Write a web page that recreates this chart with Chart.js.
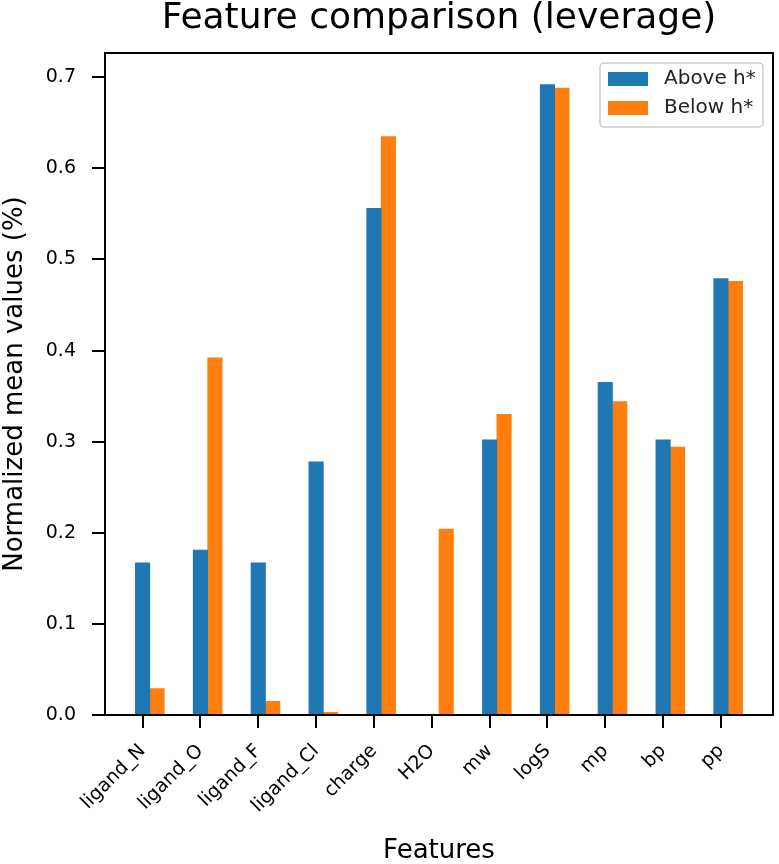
<!DOCTYPE html>
<html>
<head>
<meta charset="utf-8">
<script src="https://cdn.jsdelivr.net/npm/chart.js@4.4.1/dist/chart.umd.min.js"></script>
<style>
  body { margin: 0; background: #fff; }
  #wrap { width: 779px; height: 864px; position: relative; }
</style>
</head>
<body>
<div id="wrap"><canvas id="myChart"></canvas></div>
<script>
const features = ['ligand_N', 'ligand_O', 'ligand_F', 'ligand_Cl', 'charge', 'H2O', 'mw', 'logS', 'mp', 'bp', 'pp'];
const aboveH = [0.167, 0.181, 0.167, 0.278, 0.556, 0.0, 0.302, 0.692, 0.365, 0.302, 0.479];
const belowH = [0.029, 0.392, 0.015, 0.003, 0.635, 0.204, 0.330, 0.688, 0.344, 0.294, 0.476];
const seriesNames = ['Above h*', 'Below h*'];
const yTicks = [0.0, 0.1, 0.2, 0.3, 0.4, 0.5, 0.6, 0.7];

const barWidth = 0.25; // orange bar sits one bar width right of the tick
const blue = '#1f77b4';
const orange = '#ff7f0e';
const fontFamily = '"DejaVu Sans", sans-serif';

const toPoints = (vals, shift) => vals.map((v, i) => ({ x: i + shift, y: v }));

// top/right spines + legend box like matplotlib
const framePlugin = {
  id: 'frame',
  afterDatasetsDraw(chart) {
    const { ctx, chartArea: ca } = chart;
    ctx.save();
    ctx.strokeStyle = '#000';
    ctx.lineWidth = 2;
    ctx.strokeRect(ca.left, ca.top, ca.right - ca.left, ca.bottom - ca.top);

    // legend
    const w = 163, h = 64;
    const x = ca.right - 10 - w, y = ca.top + 10;
    ctx.beginPath();
    ctx.roundRect(x, y, w, h, 4);
    ctx.fillStyle = 'rgba(255,255,255,0.8)';
    ctx.fill();
    ctx.strokeStyle = '#cccccc';
    ctx.lineWidth = 1.5;
    ctx.stroke();
    ctx.font = '20px ' + fontFamily;
    ctx.textBaseline = 'middle';
    ctx.textAlign = 'left';
    chart.data.datasets.forEach((ds, i) => {
      const ry = y + 16 + i * 29;
      ctx.fillStyle = ds.backgroundColor;
      ctx.fillRect(x + 8, ry - 7, 40, 14);
      ctx.fillStyle = '#222';
      ctx.fillText(ds.label, x + 64, ry);
    });
    ctx.restore();
  }
};

const ctx = document.getElementById('myChart').getContext('2d');

const chartConfig = {
  type: 'bar',
  data: {
    datasets: [
      { label: seriesNames[0], data: toPoints(aboveH, 0), backgroundColor: blue },
      { label: seriesNames[1], data: toPoints(belowH, barWidth), backgroundColor: orange }
    ]
  },
  options: {
    responsive: true,
    maintainAspectRatio: false,
    animation: false,
    grouped: false,
    categoryPercentage: 1.0,
    barPercentage: 1.0,
    layout: { padding: { left: 0, right: 6, top: 0, bottom: 0 } },
    plugins: {
      legend: { display: false },
      tooltip: { enabled: false },
      title: {
        display: true,
        fullSize: false,
        text: 'Feature comparison (leverage)',
        color: '#000',
        font: { family: fontFamily, size: 36, weight: 'normal', lineHeight: 1 },
        padding: { top: 1, bottom: 16 }
      }
    },
    scales: {
      x: {
        type: 'linear',
        offset: false,
        min: -0.65,
        max: 10.9,
        afterBuildTicks: (scale) => { scale.ticks = features.map((_, i) => ({ value: i })); },
        afterFit: (scale) => { scale.height = 149; },
        ticks: {
          autoSkip: false,
          minRotation: 45,
          maxRotation: 45,
          padding: 12,
          color: '#000',
          font: { family: fontFamily, size: 19 },
          callback: (value) => features[value]
        },
        grid: { offset: false, drawOnChartArea: false, drawTicks: true, tickLength: 13, color: '#000', lineWidth: 2 },
        border: { display: true, color: '#000', width: 2 },
        title: {
          display: true,
          text: 'Features',
          color: '#000',
          font: { family: fontFamily, size: 26, lineHeight: 1 },
          padding: { top: 0, bottom: 0 }
        }
      },
      y: {
        min: 0,
        max: 0.7266,
        afterBuildTicks: (scale) => { scale.ticks = yTicks.map(v => ({ value: v })); },
        afterFit: (scale) => { scale.width = 105; },
        ticks: {
          padding: 16,
          color: '#000',
          font: { family: fontFamily, size: 19 },
          callback: (value) => value.toFixed(1)
        },
        grid: { drawOnChartArea: false, drawTicks: true, tickLength: 13, color: '#000', lineWidth: 2 },
        border: { display: true, color: '#000', width: 2 },
        title: {
          display: true,
          text: 'Normalized mean values (%)',
          color: '#000',
          font: { family: fontFamily, size: 26 },
          padding: { top: 0, bottom: 4 }
        }
      }
    }
  },
  plugins: [framePlugin]
};

const myChart = new Chart(ctx, chartConfig);
</script>
</body>
</html>
